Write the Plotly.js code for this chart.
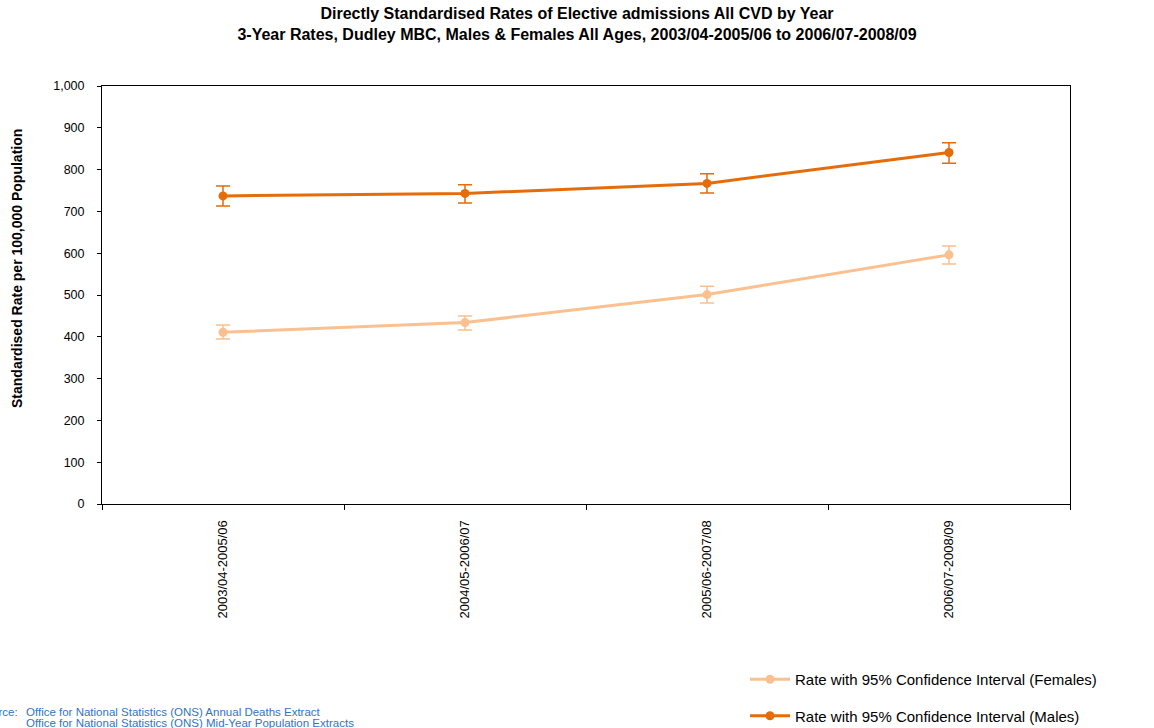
<!DOCTYPE html>
<html><head><meta charset="utf-8">
<script src="https://cdn.plot.ly/plotly-3.0.1.min.js"></script>
<style>body{margin:0;background:#fff}#c{width:1154px;height:728px}</style>
</head><body><div id="c"></div>
<script>
const periods = ['2003/04-2005/06','2004/05-2006/07','2005/06-2007/08','2006/07-2008/09'];
const femalesRate = [411, 434, 501, 596];
const femalesUpper = [428, 450, 521, 617];
const femalesLower = [395, 416, 481, 574];
const malesRate = [737, 743, 767, 841];
const malesUpper = [761, 764, 790, 864];
const malesLower = [713, 720, 744, 815];

const maleColor = '#E46C0A';
const femaleColor = '#FAC090';

function trace(name, y, up, lo, color, grp){
  return {
    type:'scatter', mode:'lines+markers', name:name, x:periods, y:y, legendgroup:grp,
    line:{color:color, width:3}, marker:{color:color, size:9},
    error_y:{type:'data', symmetric:false,
      array:up.map((u,i)=>u-y[i]), arrayminus:y.map((v,i)=>v-lo[i]),
      color:color, thickness:1.5, width:7}
  };
}
const data = [
  trace('Rate with 95% Confidence Interval (Females)', femalesRate, femalesUpper, femalesLower, femaleColor, 'f'),
  trace('Rate with 95% Confidence Interval (Males)', malesRate, malesUpper, malesLower, maleColor, 'm')
];
const font = 'Liberation Sans, Arial, sans-serif';
const layout = {
  width:1154, height:728,
  margin:{l:102, r:84, t:86, b:224, autoexpand:false},
  paper_bgcolor:'#fff', plot_bgcolor:'#fff',
  font:{family:font, color:'#000', size:11},
  title:{text:'<b>Directly Standardised Rates of Elective admissions All CVD by Year<br>3-Year Rates, Dudley MBC, Males &amp; Females All Ages, 2003/04-2005/06 to 2006/07-2008/09</b>',
    x:0.5, xanchor:'center', y:1-19/728, yanchor:'top', font:{family:font, size:16, color:'#000'}},
  xaxis:{type:'category', tickangle:-90, showgrid:false, showline:true, linecolor:'#000', linewidth:1,
    mirror:true, ticks:'outside', ticklen:5, tickcolor:'#000', tickson:'boundaries',
    tickfont:{size:13}, ticklabelstandoff:10, range:[-0.5,3.5], zeroline:false},
  yaxis:{range:[0,1000], dtick:100, tickformat:',', showgrid:false, showline:true, linecolor:'#000', linewidth:1,
    mirror:true, ticks:'outside', ticklen:4, tickcolor:'#000', zeroline:false, tickfont:{size:12.5},
    ticklabelstandoff:10},
  showlegend:true,
  legend:{x:(745-102)/968, xanchor:'left', y:-(663-504)/418, yanchor:'top', font:{size:15, color:'#000'},
    tracegroupgap:14, itemwidth:40, bgcolor:'rgba(0,0,0,0)'},
  annotations:[
    {xref:'paper', yref:'paper', x:(17-102)/968, xanchor:'center', y:(504-269)/418, yanchor:'middle', showarrow:false,
     textangle:-90, text:'<b>Standardised Rate per 100,000 Population</b>', font:{size:14, color:'#000'}},
    {xref:'paper', yref:'paper', x:(20-102)/968, xanchor:'right', y:-(712-504)/418, yanchor:'middle', showarrow:false,
     text:'Source:', font:{size:11.5, color:'#2E75C8'}},
    {xref:'paper', yref:'paper', x:(24-102)/968, xanchor:'left', y:-(712-504)/418, yanchor:'middle', showarrow:false,
     text:'Office for National Statistics (ONS) Annual Deaths Extract', font:{size:11.5, color:'#2E75C8'}},
    {xref:'paper', yref:'paper', x:(24-102)/968, xanchor:'left', y:-(723-504)/418, yanchor:'middle', showarrow:false,
     text:'Office for National Statistics (ONS) Mid-Year Population Extracts', font:{size:11.5, color:'#2E75C8'}}
  ]
};
Plotly.newPlot('c', data, layout, {displayModeBar:false});
</script></body></html>
